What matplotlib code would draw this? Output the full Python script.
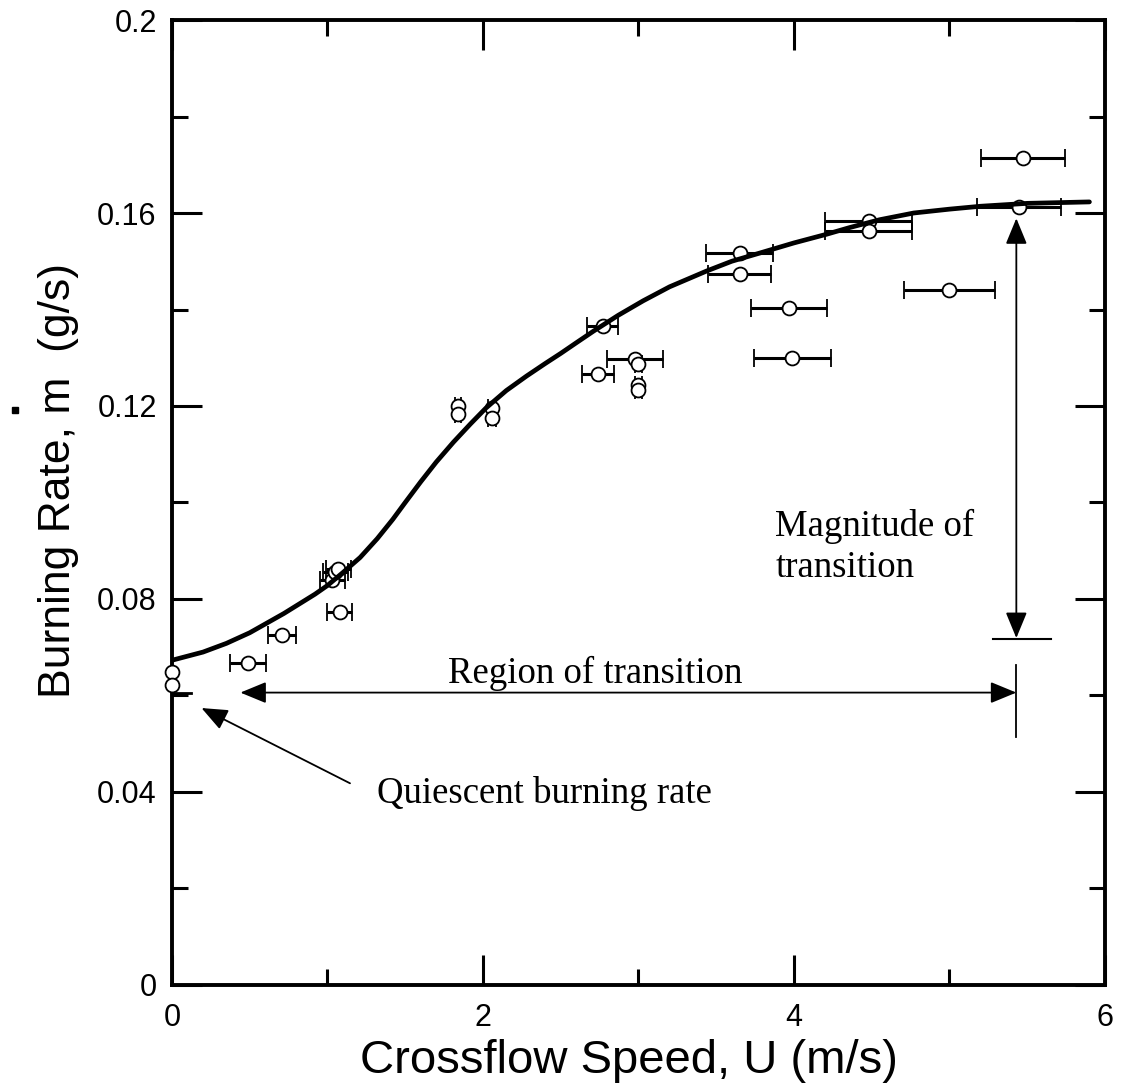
import numpy as np
import matplotlib
matplotlib.use("Agg")
import matplotlib.pyplot as plt
from matplotlib.lines import Line2D

# measured burning rates with crossflow speed uncertainty
speed = [0.49, 0.71, 1.08, 1.03, 1.05, 1.07, 1.84, 1.84, 2.06, 2.06,
         2.74, 2.77, 2.98, 3.00, 3.00, 3.00, 3.65, 3.65, 3.97, 3.99,
         4.48, 4.48, 5.00, 5.45, 5.47]
rate = [0.0667, 0.0725, 0.0772, 0.0840, 0.0855, 0.0862, 0.1201, 0.1184, 0.1195, 0.1176,
        0.1267, 0.1366, 0.1298, 0.1288, 0.1243, 0.1233, 0.1517, 0.1473, 0.1404, 0.1300,
        0.1583, 0.1562, 0.1440, 0.1612, 0.1714]
speed_err = [0.115, 0.09, 0.08, 0.08, 0.08, 0.08, 0.02, 0.02, 0.025, 0.025,
             0.105, 0.10, 0.18, 0.02, 0.02, 0.02, 0.215, 0.205, 0.245, 0.25,
             0.28, 0.28, 0.29, 0.27, 0.27]

# quiescent (no crossflow) points
quiescent_speed = [0.0, 0.0]
quiescent_rate = [0.0648, 0.0622]

# fitted trend curve
curve_speed = [0.0, 0.2, 0.35, 0.5, 0.61, 0.72, 0.82, 0.92, 1.0, 1.1, 1.21, 1.32, 1.42, 1.5,
               1.6, 1.7, 1.81, 1.92, 2.02, 2.15, 2.28, 2.4, 2.5, 2.6, 2.71, 2.87, 3.03,
               3.2, 3.44, 3.6, 3.78, 4.0, 4.21, 4.36, 4.55, 4.77, 5.0, 5.2, 5.5, 5.9]
curve_rate = [0.0673, 0.0690, 0.0708, 0.0730, 0.0750, 0.0770, 0.0790, 0.0810, 0.0828, 0.0855,
              0.0886, 0.0925, 0.0965, 0.1000, 0.1043, 0.1084, 0.1125, 0.1163, 0.1196, 0.1232,
              0.1262, 0.1288, 0.1309, 0.1331, 0.1355, 0.1388, 0.1418, 0.1447, 0.1480, 0.1500,
              0.1517, 0.1538, 0.1556, 0.1570, 0.1586, 0.1600, 0.1608, 0.1614, 0.1620, 0.1623]

xticks = [0, 2, 4, 6]
xtick_labels = ["0", "2", "4", "6"]
yticks = [0, 0.04, 0.08, 0.12, 0.16, 0.2]
ytick_labels = ["0", "0.04", "0.08", "0.12", "0.16", "0.2"]

SANS = "Liberation Sans"
SERIF = "Liberation Serif"

fig = plt.figure(figsize=(11.21, 10.88), dpi=100)
ax = fig.add_axes([0.1534, 0.0947, 0.8323, 0.8869])

ax.errorbar(speed, rate, xerr=speed_err, fmt="o", ms=10, mfc="white", mec="black",
            mew=1.3, ecolor="black", elinewidth=2.2, capsize=6.5, capthick=2.2, zorder=3)
ax.plot(quiescent_speed, quiescent_rate, "o", ms=10, mfc="white", mec="black",
        mew=1.3, clip_on=False, zorder=4)
ax.plot(curve_speed, curve_rate, color="black", lw=3.4, solid_capstyle="round", zorder=5)

# annotations
head = "head_length=0.8,head_width=0.33"
ax.annotate("", xy=(0.44, 0.0606), xytext=(5.43, 0.0606),
            arrowprops=dict(arrowstyle="<|-|>," + head, color="black", lw=1.3,
                            mutation_scale=20, shrinkA=0, shrinkB=0))
ax.annotate("", xy=(5.43, 0.0719), xytext=(5.43, 0.1589),
            arrowprops=dict(arrowstyle="<|-|>," + head, color="black", lw=1.3,
                            mutation_scale=20, shrinkA=0, shrinkB=0))
ax.annotate("", xy=(0.19, 0.0574), xytext=(1.145, 0.0418),
            arrowprops=dict(arrowstyle="-|>," + head, color="black", lw=1.3,
                            mutation_scale=20, shrinkA=0, shrinkB=0))
ax.plot([5.28, 5.65], [0.0717, 0.0717], color="black", lw=1.5)
ax.plot([5.43, 5.43], [0.0514, 0.0663], color="black", lw=1.3)
ax.plot([0.0, 0.12], [0.0606, 0.0606], color="black", lw=2.0)

ax.text(1.775, 0.0625, "Region of transition", family=SERIF, fontsize=26.5, va="baseline")
ax.text(1.32, 0.0377, "Quiescent burning rate", family=SERIF, fontsize=26.5, va="baseline")
ax.text(3.88, 0.0845, "Magnitude of\ntransition", family=SERIF, fontsize=26.5,
        va="baseline", linespacing=1.25)

ax.set_xlim(0, 6)
ax.set_ylim(0, 0.2)
ax.set_xticks(xticks)
ax.set_xticklabels(xtick_labels)
ax.set_xticks([1, 3, 5], minor=True)
ax.set_yticks(yticks)
ax.set_yticklabels(ytick_labels)
ax.set_yticks([0.02, 0.06, 0.1, 0.14, 0.18], minor=True)

ax.tick_params(which="both", direction="in", top=True, right=True, width=2.2, color="black")
ax.tick_params(which="major", length=21.5, labelsize=22)
ax.tick_params(which="minor", length=11.5)
ax.tick_params(axis="x", which="major", pad=13)
ax.tick_params(axis="y", which="major", pad=11)
for lab in ax.get_xticklabels() + ax.get_yticklabels():
    lab.set_family(SANS)
for sp in ax.spines.values():
    sp.set_linewidth(2.8)

ax.set_xlabel("Crossflow Speed, U (m/s)", family=SANS, fontsize=34, labelpad=0)
ax.xaxis.set_label_coords(0.49, -0.056)
ax.set_ylabel("Burning Rate, m  (g/s)", family=SANS, fontsize=32)
ax.yaxis.set_label_coords(-0.1, 0.523)

# dot over the m in the y label
fig.add_artist(Line2D([15 / 1121], [678 / 1088], marker="s", ms=4.5, color="black",
                      transform=fig.transFigure))

fig.savefig("out.png", dpi=100)
